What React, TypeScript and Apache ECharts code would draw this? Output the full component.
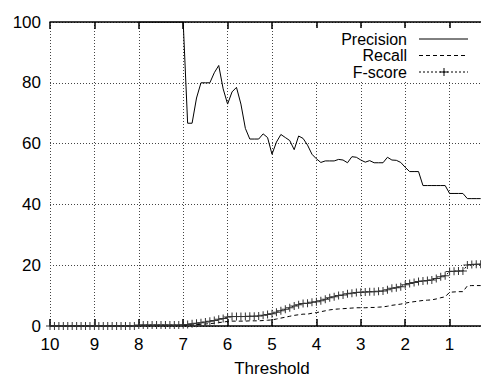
import React, { useEffect, useRef } from "react";
import * as echarts from "echarts";

const thresholds = [
  10.0, 9.9, 9.8, 9.7, 9.6, 9.5, 9.4, 9.3, 9.2, 9.1,
  9.0, 8.9, 8.8, 8.7, 8.6, 8.5, 8.4, 8.3, 8.2, 8.1,
  8.0, 7.9, 7.8, 7.7, 7.6, 7.5, 7.4, 7.3, 7.2, 7.1,
  7.0, 6.9, 6.8, 6.7, 6.6, 6.5, 6.4, 6.3, 6.2, 6.1,
  6.0, 5.9, 5.8, 5.7, 5.6, 5.5, 5.4, 5.3, 5.2, 5.1,
  5.0, 4.9, 4.8, 4.7, 4.6, 4.5, 4.4, 4.3, 4.2, 4.1,
  4.0, 3.9, 3.8, 3.7, 3.6, 3.5, 3.4, 3.3, 3.2, 3.1,
  3.0, 2.9, 2.8, 2.7, 2.6, 2.5, 2.4, 2.3, 2.2, 2.1,
  2.0, 1.9, 1.8, 1.7, 1.6, 1.5, 1.4, 1.3, 1.2, 1.1,
  1.0, 0.9, 0.8, 0.7, 0.6, 0.5, 0.4, 0.3,
];

const precision: (number | null)[] = [
  null, null, null, null, null, null, null, null, null, null,
  null, null, null, null, null, null, null, null, null, null,
  100, 100, 100, 100, 100, 100, 100, 100, 100, 100,
  100, 66.7, 66.7, 75, 80, 80, 80, 83.3, 85.7, 78,
  73, 77, 78.5, 73, 65, 61.5, 61.5, 61.5, 63.2, 62,
  56.5, 60.5, 63, 62, 61, 58, 62.5, 61.7, 59.5, 56.5,
  55, 53.8, 54.3, 54.3, 54.3, 54.8, 54.6, 53.7, 55.7, 55.5,
  54.6, 53.9, 54.4, 53.7, 53.7, 53.7, 55.5, 54.6, 54.5, 53.8,
  52.2, 50.8, 50.8, 50.8, 46.2, 46.2, 46.2, 46.2, 46.2, 46.2,
  43.6, 43.6, 43.6, 43.6, 41.9, 41.9, 41.9, 41.9,
];

const recall = [
  0, 0, 0, 0, 0, 0, 0, 0, 0, 0,
  0, 0, 0, 0, 0, 0, 0, 0, 0, 0,
  0.15, 0.15, 0.15, 0.15, 0.15, 0.15, 0.15, 0.15, 0.15, 0.15,
  0.2, 0.25, 0.35, 0.45, 0.55, 0.65, 0.8, 0.9, 1.1, 1.3,
  1.5, 1.6, 1.6, 1.6, 1.6, 1.7, 1.7, 1.7, 1.8, 1.9,
  2.0, 2.3, 2.6, 2.9, 3.2, 3.5, 3.7, 3.9, 3.9, 4.2,
  4.4, 4.7, 5.0, 5.3, 5.5, 5.6, 5.7, 5.8, 5.9, 6.0,
  6.0, 6.0, 6.1, 6.1, 6.2, 6.3, 6.5, 6.8, 7.0, 7.2,
  7.5, 7.8, 8.0, 8.2, 8.4, 8.5, 8.6, 8.9, 9.3, 9.6,
  11.1, 11.2, 11.3, 11.3, 13.2, 13.3, 13.3, 13.3,
];

const fscore = [
  0, 0, 0, 0, 0, 0, 0, 0, 0, 0,
  0, 0, 0, 0, 0, 0, 0, 0, 0, 0,
  0.3, 0.3, 0.3, 0.3, 0.3, 0.3, 0.3, 0.3, 0.3, 0.3,
  0.4, 0.5, 0.7, 0.9, 1.1, 1.3, 1.6, 1.8, 2.2, 2.5,
  3.0, 3.1, 3.1, 3.1, 3.1, 3.2, 3.2, 3.3, 3.5, 3.8,
  4.0, 4.5, 5.0, 5.5, 6.0, 6.6, 7.0, 7.4, 7.5, 7.8,
  8.0, 8.3, 8.8, 9.3, 9.6, 10.0, 10.2, 10.6, 10.8, 11.0,
  11.1, 11.2, 11.3, 11.3, 11.4, 11.5, 11.9, 12.4, 12.6, 12.9,
  13.6, 14.0, 14.3, 14.6, 14.8, 15.0, 15.1, 15.6, 16.2, 16.5,
  17.9, 18.0, 18.1, 18.1, 20.1, 20.2, 20.3, 20.3,
];

const seriesNames = ["Precision", "Recall", "F-score"];
const xTickLabels = ["10", "9", "8", "7", "6", "5", "4", "3", "2", "1"];

const FONT = "'Liberation Sans', Arial, Helvetica, sans-serif";

export default function App() {
  const ref = useRef<HTMLDivElement>(null);

  useEffect(() => {
    if (!ref.current) return;
    const chart = echarts.init(ref.current, null, { renderer: "svg" });
    const pair = (arr: (number | null)[]) =>
      thresholds.map((t, i) => [t, arr[i] === null ? null : arr[i]]);

    const plus = "path://M0,3.5H8V4.5H0ZM3.5,0H4.5V8H3.5Z";

    const legendRows = [39, 55.5, 72];
    const lx1 = 419;
    const lx2 = 468;

    chart.setOption({
      animation: false,
      backgroundColor: "#fff",
      textStyle: { fontFamily: FONT },
      grid: {
        left: 50,
        right: -13,
        top: 22,
        bottom: 51,
        containLabel: false,
        outerBoundsMode: "none",
      },
      xAxis: [
        {
          type: "value",
          min: 0,
          max: 10,
          interval: 1,
          inverse: true,
          name: "Threshold",
          nameLocation: "middle",
          nameGap: 34,
          nameTextStyle: { fontSize: 17, color: "#000", fontFamily: FONT },
          axisLine: { show: true, lineStyle: { color: "#000", width: 1.5 } },
          axisTick: { show: true, inside: true, length: 7, lineStyle: { color: "#000", width: 1.5 } },
          axisLabel: {
            fontSize: 17,
            color: "#000",
            margin: 10,
            fontFamily: FONT,
            formatter: (v: number) => (xTickLabels.includes(String(v)) ? String(v) : ""),
          },
          splitLine: { show: true, lineStyle: { color: "#444", width: 1, type: [1, 2] } },
        },
        {
          type: "value",
          position: "top",
          min: 0,
          max: 10,
          interval: 1,
          inverse: true,
          axisLine: { show: true, lineStyle: { color: "#000", width: 1.5 } },
          axisTick: { show: true, inside: true, length: 7, lineStyle: { color: "#000", width: 1.5 } },
          axisLabel: { show: false },
          splitLine: { show: false },
        },
      ],
      yAxis: {
        type: "value",
        min: 0,
        max: 100,
        interval: 20,
        axisLine: { show: true, lineStyle: { color: "#000", width: 1.5 } },
        axisTick: { show: true, inside: true, length: 7, lineStyle: { color: "#000", width: 1.5 } },
        axisLabel: { fontSize: 17, color: "#000", margin: 9, fontFamily: FONT },
        splitLine: { show: true, lineStyle: { color: "#444", width: 1, type: [1, 2] } },
      },
      graphic: [
        {
          type: "rect",
          z: 1,
          shape: { x: 315, y: 28, width: 170, height: 52 },
          style: { fill: "#fff" },
        },
        ...seriesNames.map((n, i) => ({
          type: "text",
          z: 10,
          x: 407,
          y: legendRows[i],
          style: {
            text: n,
            fontSize: 16,
            lineHeight: 15,
            fontFamily: FONT,
            fill: "#000",
            textAlign: "right",
            textVerticalAlign: "middle",
          },
        })),
        {
          type: "line",
          z: 10,
          shape: { x1: lx1, y1: legendRows[0], x2: lx2, y2: legendRows[0] },
          style: { stroke: "#000", lineWidth: 1 },
        },
        {
          type: "line",
          z: 10,
          shape: { x1: lx1, y1: legendRows[1], x2: lx2, y2: legendRows[1] },
          style: { stroke: "#000", lineWidth: 1, lineDash: [4, 3] },
        },
        {
          type: "line",
          z: 10,
          shape: { x1: lx1, y1: legendRows[2], x2: lx2, y2: legendRows[2] },
          style: { stroke: "#000", lineWidth: 1, lineDash: [2, 2] },
        },
        {
          type: "line",
          z: 10,
          shape: { x1: 440, y1: legendRows[2], x2: 448, y2: legendRows[2] },
          style: { stroke: "#000", lineWidth: 1 },
        },
        {
          type: "line",
          z: 10,
          shape: { x1: 444, y1: legendRows[2] - 4, x2: 444, y2: legendRows[2] + 4 },
          style: { stroke: "#000", lineWidth: 1 },
        },
      ],
      series: [
        {
          name: seriesNames[0],
          type: "line",
          data: pair(precision),
          showSymbol: false,
          connectNulls: false,
          lineStyle: { color: "#000", width: 1 },
          itemStyle: { color: "#000" },
          z: 3,
        },
        {
          name: seriesNames[1],
          type: "line",
          data: pair(recall),
          showSymbol: false,
          lineStyle: { color: "#000", width: 1, type: [4, 3] },
          itemStyle: { color: "#000" },
          z: 3,
        },
        {
          name: seriesNames[2],
          type: "line",
          data: pair(fscore),
          symbol: plus,
          symbolSize: 8,
          showSymbol: true,
          showAllSymbol: true,
          lineStyle: { color: "#000", width: 1, type: [2, 2] },
          itemStyle: { color: "#333" },
          z: 4,
        },
      ],
    });
    return () => chart.dispose();
  }, []);

  return (
    <div
      ref={ref}
      style={{ position: "fixed", left: 0, top: 0, width: 481, height: 377, background: "#fff" }}
    />
  );
}
